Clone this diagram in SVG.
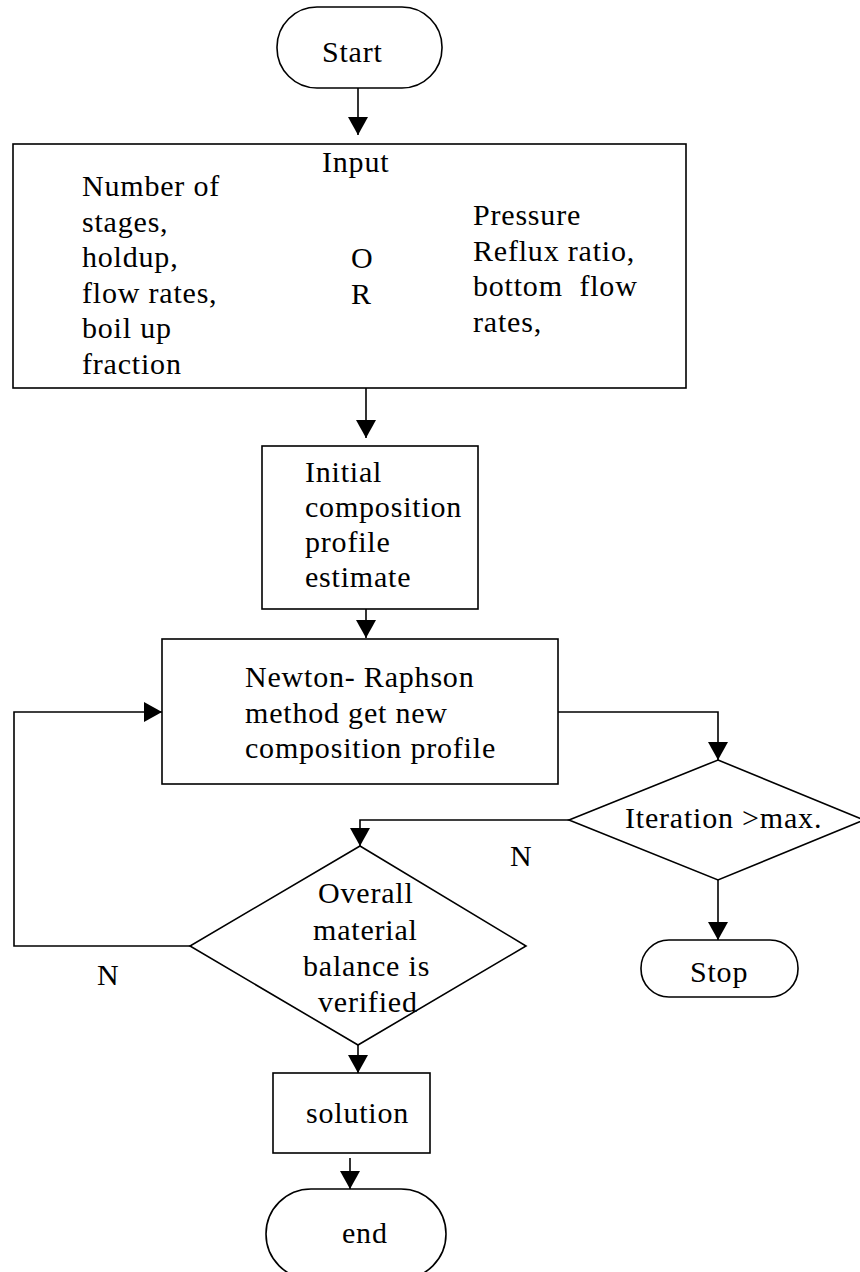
<svg xmlns="http://www.w3.org/2000/svg" width="860" height="1272" viewBox="0 0 860 1272">
<style>
.s{fill:#fff;stroke:#000;stroke-width:1.6}
.c{fill:none;stroke:#000;stroke-width:1.6}
text{font-family:"Liberation Serif","Times New Roman",serif;font-size:30px;letter-spacing:0.8px;fill:#000;white-space:pre}
</style>
<defs>
<marker id="ah" markerUnits="userSpaceOnUse" markerWidth="18" markerHeight="20" refX="18" refY="10" orient="auto">
<path d="M0,0 L18,10 L0,20 z" fill="#000"/>
</marker>
</defs>
<rect width="860" height="1272" fill="#fff"/>
<g id="connectors">
<path class="c" d="M358,88 V135" marker-end="url(#ah)"/>
<path class="c" d="M366,388 V438" marker-end="url(#ah)"/>
<path class="c" d="M366,609 V638" marker-end="url(#ah)"/>
<path class="c" d="M558,712 H718 V760" marker-end="url(#ah)"/>
<path class="c" d="M569,820 H360 V846" marker-end="url(#ah)"/>
<path class="c" d="M718,880 V940" marker-end="url(#ah)"/>
<path class="c" d="M190,946 H14 V712 H162" marker-end="url(#ah)"/>
<path class="c" d="M358,1045 V1073" marker-end="url(#ah)"/>
<path class="c" d="M350,1158 V1189" marker-end="url(#ah)"/>
<text x="510" y="866">N</text>
<text x="97" y="985">N</text>
</g>
<g id="start">
<rect class="s" x="277" y="7" width="165" height="81" rx="40" ry="40"/>
<text x="322" y="62">Start</text>
</g>
<g id="input">
<rect class="s" x="13" y="144" width="673" height="244"/>
<text x="322" y="172">Input</text>
<text x="82" y="196">Number of</text>
<text x="82" y="231.5">stages,</text>
<text x="82" y="267">holdup,</text>
<text x="82" y="302.5">flow rates,</text>
<text x="82" y="338">boil up</text>
<text x="82" y="373.5">fraction</text>
<text x="351" y="268">O</text>
<text x="351" y="304">R</text>
<text x="473" y="225">Pressure</text>
<text x="473" y="260.5">Reflux ratio,</text>
<text x="473" y="296">bottom  flow</text>
<text x="473" y="331.5">rates,</text>
</g>
<g id="initial">
<rect class="s" x="262" y="446" width="216" height="163"/>
<text x="305" y="482">Initial</text>
<text x="305" y="517">composition</text>
<text x="305" y="552">profile</text>
<text x="305" y="587">estimate</text>
</g>
<g id="newton">
<rect class="s" x="162" y="639" width="396" height="145"/>
<text x="245" y="687">Newton- Raphson</text>
<text x="245" y="722.5">method get new</text>
<text x="245" y="758">composition profile</text>
</g>
<g id="iteration">
<polygon class="s" points="718,760 864,820 718,880 569,820"/>
<text x="625" y="828">Iteration &gt;max.</text>
</g>
<g id="stop">
<rect class="s" x="641" y="940" width="157" height="57" rx="28" ry="28"/>
<text x="690" y="982">Stop</text>
</g>
<g id="balance">
<polygon class="s" points="360,846 526,946 358,1045 190,946"/>
<text x="318" y="903">Overall</text>
<text x="313" y="940">material</text>
<text x="303" y="976">balance is</text>
<text x="318" y="1012">verified</text>
</g>
<g id="solution">
<rect class="s" x="273" y="1073" width="157" height="80"/>
<text x="306" y="1123">solution</text>
</g>
<g id="end">
<rect class="s" x="266" y="1189" width="180" height="90" rx="45" ry="45"/>
<text x="342" y="1243">end</text>
</g>
</svg>
